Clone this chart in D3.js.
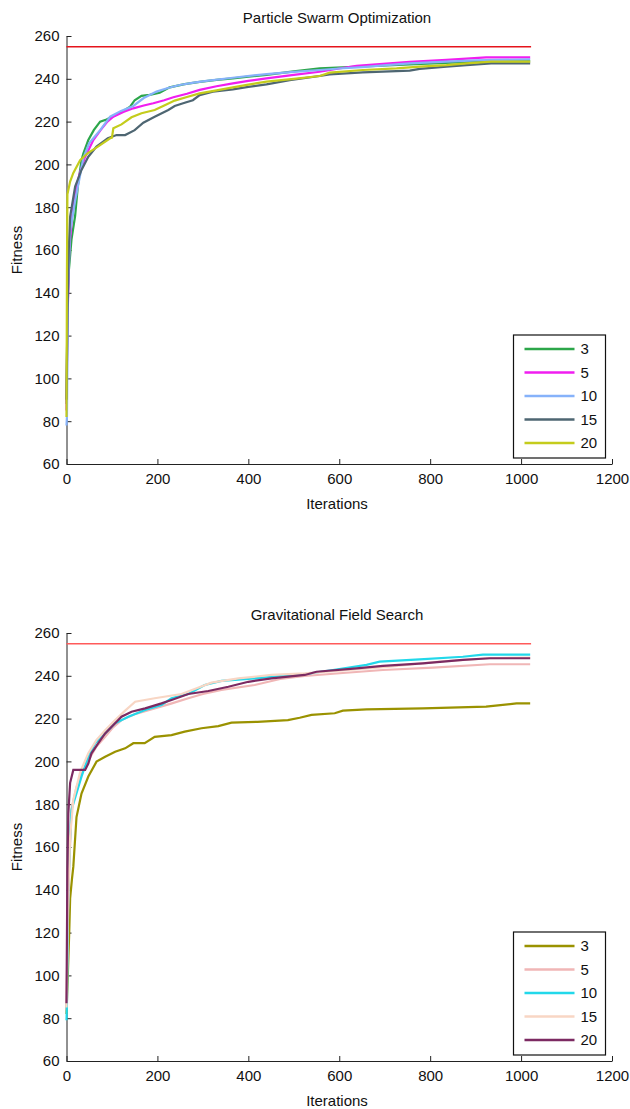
<!DOCTYPE html>
<html>
<head>
<meta charset="utf-8">
<script src="https://cdn.jsdelivr.net/npm/d3@7"></script>
<style>
  html, body { margin: 0; padding: 0; background: #fff; }
  svg text { font-family: "Liberation Sans", Arial, Helvetica, sans-serif; fill: #111; }
</style>
</head>
<body>
<svg id="chart" width="630" height="1109"></svg>
<script>
// ---------- data ----------
const xTicks = [0, 200, 400, 600, 800, 1000, 1200];
const yTicks = [60, 80, 100, 120, 140, 160, 180, 200, 220, 240, 260];
const seriesNames = ["3", "5", "10", "15", "20"];
const optimumValue = 255;
const lastIteration = 1022;

const psoTitle = "Particle Swarm Optimization";
const gfsTitle = "Gravitational Field Search";

// PSO series: [iteration, fitness]
const pso3 = [[0,88],[2,130],[5,150],[11,165],[19,176],[25,190],[33,202],[37,205],[48,211.4],[60,216],[74,220],[88,221],[107,223],[125,225],[140,227],[150,230],[165,232],[183,232.5],[205,233.5],[227,236],[260,237.5],[293,238.6],[330,239.5],[366,240.2],[400,241],[440,241.8],[500,243.5],[557,244.9],[620,245.5],[680,246],[780,247],[900,248],[1020,248.3]];
const pso5 = [[0,85],[2,125],[6,160],[12,175],[19,186.6],[28,195],[40,203],[59,211.4],[75,216],[90,220],[103,222.3],[125,224.5],[147,226.2],[170,227.5],[191,228.6],[215,230],[235,231.4],[265,233],[293,234.8],[330,236.5],[366,237.9],[400,239],[440,240.2],[500,241.8],[557,243.3],[600,244.8],[638,246],[674,246.6],[711,247.2],[755,247.9],[836,248.8],[880,249.4],[923,250],[1020,250]];
const pso10 = [[0,78],[1,82],[3,140],[8,169],[19,183],[30,195],[37,203],[50,210],[74,216],[96,222.3],[120,225],[147,227.3],[170,231],[198,234],[225,235.8],[249,237.1],[280,238.2],[308,239],[366,240.5],[440,242.2],[500,243.2],[557,244.1],[600,244.8],[650,245.5],[711,246.5],[755,247.2],[836,248],[900,248.6],[1020,249.1]];
const pso15 = [[0,90],[2,130],[5,160],[8,175.6],[19,189.6],[33,197.4],[48,203.6],[66,208.3],[91,212.2],[110,213.7],[129,213.7],[150,216],[169,219.5],[194,222.3],[224,225.4],[238,227.3],[260,228.8],[278,230],[293,232.4],[322,234],[366,235.1],[400,236.2],[440,237.4],[491,239.4],[557,241.3],[579,242.1],[652,243],[755,243.8],[777,244.6],[836,245.7],[880,246.4],[934,247.2],[1020,247.2]];
const pso20 = [[0,82],[1,150],[2,186],[8,192],[15,196],[30,202],[47,205.3],[69,208.3],[96,212.2],[100,212.5],[103,216.9],[121,218.7],[143,222],[165,223.9],[194,225.4],[215,227.5],[238,229.8],[265,231.5],[293,233.2],[330,234.6],[366,236],[400,237.3],[440,238.7],[500,240],[557,241.3],[579,242.9],[652,244.1],[726,244.9],[777,245.7],[836,246.4],[880,247.2],[934,248],[1020,248]];

// GFS series: [iteration, fitness]
const gfs3 = [[0,82],[6,120],[8,136],[12,145],[15,150.8],[22,174],[33,185],[48,192.9],[66,199.9],[85,202.2],[107,204.5],[129,206.1],[147,208.5],[172,208.5],[194,211.5],[231,212.3],[260,213.9],[297,215.5],[334,216.5],[363,218.1],[420,218.5],[487,219.3],[513,220.4],[539,221.7],[590,222.5],[608,223.7],[660,224.3],[784,224.8],[923,225.6],[990,227.1],[1020,227.1]];
const gfs5 = [[0,84],[3,125],[6,150],[11,178],[22,188],[33,194],[48,200.5],[66,207],[85,211.5],[103,216],[121,219.3],[150,222],[194,224.8],[230,227],[268,229.5],[300,231.5],[341,233.4],[414,235.7],[470,238.5],[524,239.9],[601,241.2],[696,242.7],[806,243.8],[931,245.4],[1020,245.4]];
const gfs10 = [[0,79],[1,87],[4,140],[8,165],[11,177.3],[22,185.1],[33,192.9],[48,202.2],[63,208.5],[85,213.1],[107,217.8],[136,220.9],[173,224],[209,226.4],[231,229.5],[268,231.5],[304,235.7],[341,237.6],[414,238.8],[491,240.2],[524,240.8],[586,242.7],[660,245.1],[689,246.6],[777,247.7],[872,248.9],[916,249.9],[1020,249.9]];
const gfs15 = [[0,85],[3,130],[8,165],[15,182],[30,195],[48,203.8],[66,210],[85,214.6],[107,219.3],[129,223.7],[151,227.9],[194,229.5],[253,231.5],[319,236.8],[378,238.8],[451,240.4],[524,241.1],[601,242.4],[711,244.3],[821,246.6],[931,248.2],[1020,248.5]];
const gfs20 = [[0,87],[2,150],[4,175.7],[8,190],[15,196],[41,196],[48,199],[55,203.8],[70,208.5],[85,213.1],[103,217],[121,220.9],[143,223.2],[173,224.8],[209,227.1],[231,228.7],[268,231.5],[312,232.9],[356,234.9],[400,237.2],[451,238.8],[524,240.4],[550,241.9],[638,243.5],[696,244.6],[784,245.8],[872,247.4],[931,248.2],[1020,248.2]];

const psoColors = ["#2ca64a", "#f01ef0", "#86b2fa", "#4e6672", "#c4cc1c"];
const gfsColors = ["#9a9200", "#f0b6b6", "#22d8ea", "#f8d6c4", "#7c2a62"];

// ---------- drawing ----------
const svg = d3.select("#chart");
const left = 66.5, right = 612, plotH = 428;

const x = d3.scaleLinear().domain([0, 1200]).range([left, right]);

function panel(top, title, data, colors, optColor) {
  const g = svg.append("g");
  const y = d3.scaleLinear().domain([60, 260]).range([top + plotH, top]);

  // title
  g.append("text").attr("x", 337).attr("y", top - 13)
    .attr("text-anchor", "middle").style("font-size", "15px").text(title);

  // axes
  const xAxis = d3.axisBottom(x).tickValues(xTicks).tickFormat(d3.format("d"))
    .tickSizeInner(-5).tickSizeOuter(0).tickPadding(8);
  const yAxis = d3.axisLeft(y).tickValues(yTicks).tickFormat(d3.format("d"))
    .tickSizeInner(-5).tickSizeOuter(0).tickPadding(7);

  const gx = g.append("g").attr("transform", `translate(0,${top + plotH})`).call(xAxis);
  const gy = g.append("g").attr("transform", `translate(${left},0)`).call(yAxis);
  [gx, gy].forEach(a => {
    a.select(".domain").attr("stroke", "#222").attr("stroke-width", 1);
    a.selectAll(".tick line").attr("stroke", "#222");
    a.selectAll(".tick text").style("font-size", "15px").attr("fill", "#111");
  });
  gx.selectAll(".tick text").attr("dy", "0.8em");

  // axis labels
  g.append("text").attr("x", 337).attr("y", top + plotH + 45)
    .attr("text-anchor", "middle").style("font-size", "15px").text("Iterations");
  g.append("text").attr("transform", `translate(22,${top + plotH / 2}) rotate(-90)`)
    .attr("text-anchor", "middle").style("font-size", "15px").text("Fitness");

  // optimum line
  g.append("line")
    .attr("x1", x(0)).attr("x2", x(lastIteration))
    .attr("y1", y(optimumValue)).attr("y2", y(optimumValue))
    .attr("stroke", optColor).attr("stroke-width", 1.5);

  // series
  const line = d3.line().x(d => x(d[0])).y(d => y(d[1])).curve(d3.curveLinear);
  data.forEach((s, i) => {
    g.append("path").datum(s).attr("d", line)
      .attr("fill", "none").attr("stroke", colors[i])
      .attr("stroke-width", 2.2).attr("stroke-linejoin", "miter");
  });

  // legend
  const lx = 513.5, ly = top + 299, lw = 92, lh = 123;
  const lg = g.append("g");
  lg.append("rect").attr("x", lx).attr("y", ly).attr("width", lw).attr("height", lh)
    .attr("fill", "#fff").attr("stroke", "#111").attr("stroke-width", 1.2);
  seriesNames.forEach((n, i) => {
    const yy = ly + 14 + i * 23.5;
    lg.append("line").attr("x1", lx + 11).attr("x2", lx + 61).attr("y1", yy).attr("y2", yy)
      .attr("stroke", colors[i]).attr("stroke-width", 2.6);
    lg.append("text").attr("x", lx + 67).attr("y", yy).attr("dy", "0.36em")
      .style("font-size", "15px").text(n);
  });
}

panel(36, psoTitle, [pso3, pso5, pso10, pso15, pso20], psoColors, "#e5141c");
panel(633, gfsTitle, [gfs3, gfs5, gfs10, gfs15, gfs20], gfsColors, "#ff5a5a");
</script>
</body>
</html>
